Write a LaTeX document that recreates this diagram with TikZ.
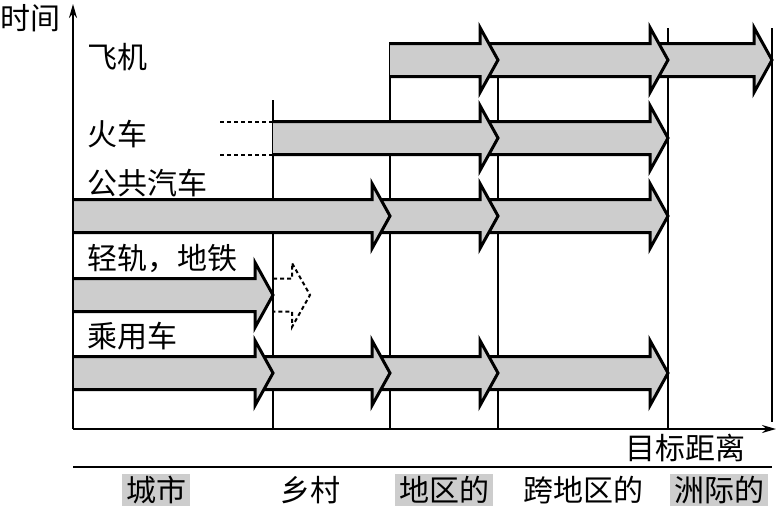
\documentclass[tikz,border=0pt]{standalone}
\usepackage{fontspec}
\setmainfont{Noto Sans CJK SC}
\newfontfamily\cjk{Noto Sans CJK SC}
\usetikzlibrary{arrows.meta}
\definecolor{arrowgray}{RGB}{205,205,205}
\newcommand{\barrowseg}[3]{%
  \fill[arrowgray] ({#1},{#3-16.5}) -- ({#2-18},{#3-16.5}) -- ({#2-18},{#3-32.5}) -- ({#2},{#3}) -- ({#2-18},{#3+32.5}) -- ({#2-18},{#3+16.5}) -- ({#1},{#3+16.5}) -- cycle;
  \draw[arrowline] ({#1},{#3-16.5}) -- ({#2-18},{#3-16.5}) -- ({#2-18},{#3-32.5}) -- ({#2},{#3}) -- ({#2-18},{#3+32.5}) -- ({#2-18},{#3+16.5}) -- ({#1},{#3+16.5});
}
\begin{document}
\begin{tikzpicture}[x=1pt,y=-1pt,
  arrowline/.style={line width=3pt,line join=miter,miter limit=10},
  gridline/.style={line width=1.6pt},
  axisline/.style={line width=2pt,-{Stealth[length=14pt,width=8pt]}},
  dashline/.style={line width=2pt,dash pattern=on 4pt off 3pt},
  lbl/.style={font=\fontsize{30}{32}\selectfont\cjk,inner sep=0pt},
  catbox/.style={lbl,fill=arrowgray,minimum height=32pt,inner xsep=4pt}]
\useasboundingbox (0,0) rectangle (776,506);
% grid lines
\draw[gridline] (273,100) -- (273,429);
\draw[gridline] (390,42) -- (390,429);
\draw[gridline] (498,42) -- (498,429);
\draw[gridline] (668,28) -- (668,429);
\draw[gridline] (772,28) -- (772,422);
% plane
\barrowseg{650}{772}{60}
\barrowseg{480}{668}{60}
\barrowseg{390}{498}{60}
% train
\draw[dashline] (220,121.5) -- (273,121.5);
\draw[dashline] (220,154.5) -- (273,154.5);
\barrowseg{480}{668}{138}
\barrowseg{273}{498}{138}
% bus
\barrowseg{480}{668}{216}
\barrowseg{372}{498}{216}
\barrowseg{73}{390}{216}
% light rail
\draw[dashline,line join=miter] (273,278.5) -- (292,278.5) -- (292,263) -- (310,295) -- (292,327) -- (292,311.5) -- (273,311.5);
\barrowseg{73}{273}{295}
% car
\barrowseg{480}{668}{373}
\barrowseg{372}{498}{373}
\barrowseg{255}{390}{373}
\barrowseg{73}{273}{373}
% axes
\coordinate (o) at (73,429);
\coordinate (ytop) at (73,4);
\coordinate (xend) at (776,429);
\draw[axisline] (o) -- (ytop);
\draw[axisline] (o) -- (xend);
\coordinate (sepl) at (73,467);
\coordinate (sepr) at (772,467);
\draw[line width=2.5pt] (sepl) -- (sepr);
% labels
\node[lbl] (time) at (30,18) {时间};
\node[lbl,anchor=west] (plane) at (87,57) {飞机};
\node[lbl,anchor=west] (train) at (87,134) {火车};
\node[lbl,anchor=west] (bus) at (87,183) {公共汽车};
\node[lbl,anchor=west] (rail) at (87,258) {轻轨，地铁};
\node[lbl,anchor=west] (car) at (87,336) {乘用车};
\node[lbl] (dist) at (685,448) {目标距离};
\node[catbox] (city) at (156,490) {城市};
\node[lbl] (rural) at (310,490) {乡村};
\node[catbox] (region) at (444,490) {地区的};
\node[lbl] (inter) at (583,490) {跨地区的};
\node[catbox] (cont) at (719,490) {洲际的};
\end{tikzpicture}
\end{document}
